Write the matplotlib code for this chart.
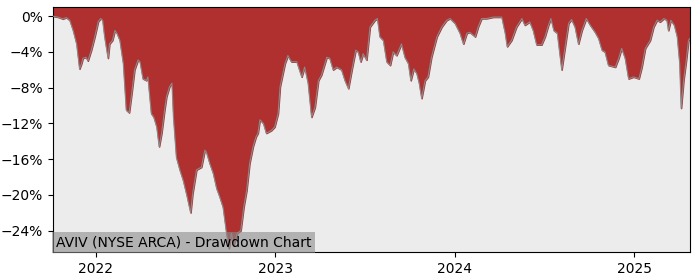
import numpy as np
import matplotlib
matplotlib.use("Agg")
import matplotlib.pyplot as plt
import pandas as pd

start = "2021-10-06"
# days after start, drawdown in %
days = [0, 10, 20, 27, 34, 41, 48, 54, 58, 61, 67, 71, 78, 85, 92, 97, 101, 105,
        112, 115, 121, 126, 130, 136, 143, 149, 155, 160, 166, 173, 177, 183, 190,
        193, 200, 205, 211, 216, 221, 227, 231, 237, 242, 245, 251, 258, 265, 272,
        280, 284, 292, 302, 309, 312, 319, 326, 333, 339, 346, 353, 358, 363, 368,
        375, 382, 388, 394, 400, 407, 413, 417, 421, 428, 434, 444, 451, 458, 462,
        472, 478, 485, 496, 506, 512, 519, 526, 533, 540, 546, 557, 563, 570, 577,
        587, 594, 601, 608, 616, 621, 626, 631, 638, 645, 655, 660, 665, 672, 679,
        686, 692, 699, 709, 716, 723, 728, 734, 740, 745, 750, 757, 763, 770, 781,
        791, 801, 808, 818, 828, 835, 842, 848, 859, 865, 872, 882, 896, 913, 920,
        924, 933, 943, 954, 960, 970, 977, 984, 994, 1001, 1008, 1013, 1019, 1026,
        1035, 1042, 1049, 1055, 1062, 1069, 1076, 1085, 1093, 1103, 1110, 1117,
        1123, 1130, 1144, 1151, 1157, 1164, 1171, 1181, 1192, 1198, 1205, 1215,
        1222, 1229, 1235, 1243, 1249, 1252, 1257, 1264, 1270, 1275, 1278, 1283,
        1288, 1293, 1296]
drawdown = [0.0, -0.1, -0.3, -0.15, -0.45, -1.6, -3.1, -5.9, -5.3, -4.7, -4.6, -5.0,
            -3.8, -2.3, -0.6, -0.25, -0.45, -2.3, -4.7, -3.1, -2.7, -1.6, -1.9, -2.7,
            -5.3, -10.5, -10.8, -8.7, -6.0, -4.9, -5.1, -7.0, -7.2, -6.8, -10.9, -11.3,
            -12.4, -14.6, -13.1, -10.5, -9.0, -7.9, -7.5, -11.3, -15.8, -17.2, -18.4,
            -20.0, -22.0, -19.9, -17.2, -16.9, -15.0, -15.2, -16.5, -17.6, -19.3,
            -20.2, -21.4, -24.3, -26.0, -24.3, -25.6, -24.3, -24.0, -21.4, -19.5,
            -16.5, -14.6, -13.5, -13.1, -11.6, -12.0, -13.1, -12.8, -12.4, -10.9,
            -7.9, -5.3, -4.4, -5.1, -5.1, -6.8, -5.7, -7.5, -11.3, -10.2, -7.2, -6.6,
            -4.6, -4.7, -6.0, -5.7, -6.0, -7.2, -8.1, -6.0, -3.8, -4.0, -5.1, -4.2,
            -4.9, -1.2, -0.45, -0.26, -2.3, -2.7, -5.1, -5.5, -4.0, -4.4, -3.1, -4.6,
            -5.3, -7.2, -5.9, -6.4, -7.5, -9.2, -7.2, -6.8, -4.6, -2.3, -1.2, -0.45,
            -0.26, -0.8, -1.9, -3.1, -1.9, -1.8, -2.3, -1.2, -0.26, -0.26, -0.1, -0.1,
            -1.9, -3.4, -2.7, -1.2, -0.26, -1.0, -0.64, -1.6, -3.2, -3.2, -2.3, -1.0,
            -0.26, -1.6, -1.9, -6.0, -3.4, -0.8, -0.37, -1.2, -3.1, -1.6, -0.26, -1.0,
            -1.8, -2.5, -3.8, -4.0, -5.5, -5.7, -4.7, -3.6, -4.7, -7.0, -6.8, -7.0,
            -5.7, -3.6, -2.7, -1.2, -0.45, -0.64, -0.26, -0.45, -1.6, -0.45, -1.0,
            -2.3, -5.3, -10.3, -7.2, -5.1, -2.7, -2.5]
yticks = [0, -4, -8, -12, -16, -20, -24]
years = ["2022", "2023", "2024", "2025"]
title = "AVIV (NYSE ARCA) - Drawdown Chart"

dates = pd.Timestamp(start) + pd.to_timedelta(days, unit="D")
y = np.array(drawdown)

fig = plt.figure(figsize=(7, 2.8), dpi=100)
ax = fig.add_axes([0.0757, 0.1, 0.91, 0.874])
ax.set_facecolor("#ececec")

ax.fill_between(dates, y, 1.0, color="#b03030", zorder=2)
ax.plot(dates, y, color="#8a8a8a", linewidth=0.8, zorder=3)

ax.set_xlim(dates[0], dates[-1])
ax.set_ylim(-26.4, 1.0)
ax.set_yticks(yticks)
ax.set_yticklabels([f"{v}%".replace("-", "\u2212") for v in yticks])
ax.set_xticks([pd.Timestamp(f"{yr}-01-01") for yr in years])
ax.set_xticklabels(years)
ax.tick_params(labelsize=10)

ax.text(0.004, 0.012, title, transform=ax.transAxes, fontsize=10,
        ha="left", va="bottom", zorder=5,
        bbox=dict(facecolor="#8c8c8c", alpha=0.6, edgecolor="none", pad=2.5))

fig.savefig("out.png", dpi=100)
